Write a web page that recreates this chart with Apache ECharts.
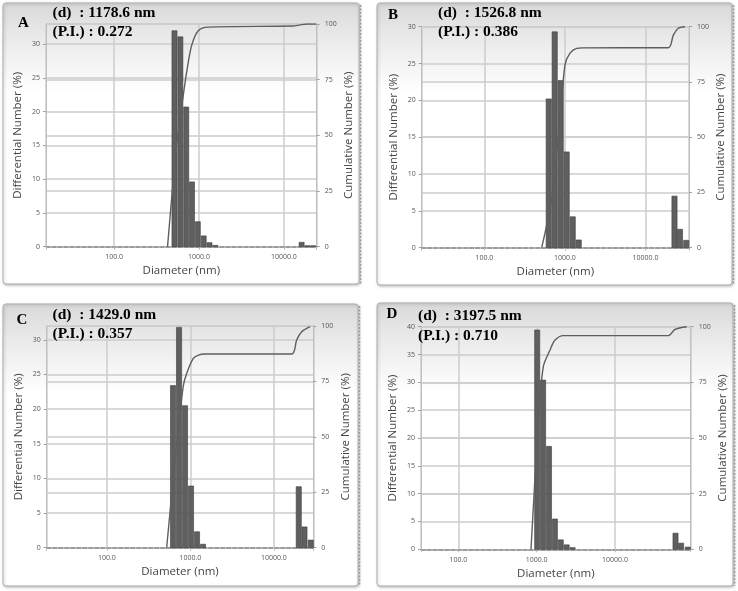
<!DOCTYPE html>
<html><head><meta charset="utf-8">
<script src="https://cdn.jsdelivr.net/npm/echarts@6/dist/echarts.min.js"></script>
<style>html,body{margin:0;padding:0;background:#fff}#c{width:738px;height:591px}</style>
</head><body><div id="c"></div>
<script>
// ---------------- data ----------------
const panelLabels = ['A', 'B', 'C', 'D'];
const dValues = ['1178.6', '1526.8', '1429.0', '3197.5'];
const piValues = ['0.272', '0.386', '0.357', '0.710'];
const xTickValues = [100, 1000, 10000];

// bin centres (nm) and differential number (%)
const binsA = [514, 603, 707, 827, 968, 1136, 1330, 1557, 16200, 19000, 22200];
const diffA = [32.0, 31.1, 20.7, 9.6, 3.7, 1.6, 0.6, 0.2, 0.65, 0.15, 0.15];
const binsB = [630, 747, 887, 1052, 1250, 1483, 22900, 26800, 32000];
const diffB = [20.2, 29.3, 22.7, 13.0, 4.2, 1.05, 7.0, 2.5, 1.0];
const binsC = [621, 733, 864, 1019, 1203, 1419, 19900, 23300, 27700];
const diffC = [23.4, 31.8, 20.5, 8.9, 2.3, 0.5, 8.8, 3.0, 1.1];
const binsD = [1015, 1207, 1436, 1707, 2030, 2415, 2875, 59300, 70000, 85300];
const diffD = [39.4, 30.4, 18.5, 5.45, 1.7, 0.8, 0.3, 2.9, 1.1, 0.4];

// cumulative number (%) curve points
const cumXA = [426, 546, 653, 716, 820, 981, 1288, 12820, 15500, 18600, 24000];
const cumA  = [0, 46, 68, 78.5, 90.4, 97, 98.6, 99.1, 99.6, 100, 100];
const cumXB = [515, 685, 815, 887, 1003, 1156, 1400, 1678, 19190, 22150, 25530, 30900];
const cumB  = [0, 22, 48, 61.5, 82.7, 88, 90.2, 90.4, 90.5, 96.2, 99.3, 100];
const cumXC = [521, 656, 824, 906, 1086, 1247, 1500, 16370, 18790, 21580, 27170];
const cumC  = [0, 39.5, 73, 78.7, 85.4, 86.9, 87.4, 87.4, 93.7, 97.4, 99.7];
const cumXD = [846, 1048, 1213, 1479, 1714, 2189, 47970, 58370, 82450];
const cumD  = [0, 56.6, 82, 89.5, 94, 96, 96, 98.8, 100];

// ---------------- layout ----------------
const frames = [[3, 3, 356, 281], [377, 3, 355, 282], [3, 304, 355, 282], [377, 303, 356, 283]];
const grids = [[46, 24, 270.7, 222.7], [421.7, 26.7, 267.3, 221], [46.7, 326, 266.6, 221.7], [421, 326.7, 269.7, 222.6]];
const xExtents = [[15.74, 24380], [16.7, 34670], [19.05, 29720], [33.3, 92680]];
const leftMax = [33, 30, 32, 40];
const binLogWidth = [0.0687, 0.0744, 0.0713, 0.0754];
const letterPos = [[18, 15.4], [388, 7.4], [16.5, 312.4], [386.5, 306.7]];
const textPos = [[52.5, 3.7, 19], [438, 3.7, 19], [52.5, 305.4, 19], [418, 305.6, 20]];

const bins = [binsA, binsB, binsC, binsD];
const diffs = [diffA, diffB, diffC, diffD];
const cumXs = [cumXA, cumXB, cumXC, cumXD];
const cums = [cumA, cumB, cumC, cumD];

const sans = '"Open Sans", "Noto Sans", sans-serif';
const serif = '"Liberation Serif", "Times New Roman", serif';
const gridColor = '#cdcdcd';

function logTickLabel(v) {
  const e = Math.log10(v);
  const r = Math.round(e);
  if (Math.abs(e - r) < 1e-6) {
    const t = Math.pow(10, r);
    if (xTickValues.indexOf(t) >= 0) return t.toFixed(1);
  }
  return '';
}

function barRenderer(binLog) {
  const half = Math.pow(10, binLog / 2);
  return function (params, api) {
    const c = api.value(0), v = api.value(1);
    const p0 = api.coord([c / half, 0]);
    const p1 = api.coord([c * half, v]);
    const x0 = p0[0] + 0.4, x1 = p1[0] - 0.4;
    return {
      type: 'rect',
      shape: { x: x0, y: p1[1], width: Math.max(x1 - x0, 0.5), height: p0[1] - p1[1] },
      style: { fill: '#5f5f5f', stroke: '#3e3e3e', lineWidth: 0.6 }
    };
  };
}

const option = {
  animation: false,
  backgroundColor: '#ffffff',
  title: [],
  grid: [],
  xAxis: [],
  yAxis: [],
  series: [],
  graphic: []
};

for (let i = 0; i < 4; i++) {
  const f = frames[i];
  option.graphic.push({
    type: 'rect', z: -100,
    shape: { x: f[0], y: f[1], width: f[2], height: f[3], r: 3 },
    style: {
      fill: new echarts.graphic.LinearGradient(0, 0, 0, 1, [
        { offset: 0, color: '#d9d9d9' },
        { offset: 0.12, color: '#e9e9e9' },
        { offset: 0.32, color: '#ffffff' },
        { offset: 1, color: '#ffffff' }
      ]),
      stroke: '#b0b0b0', lineWidth: 1,
      shadowBlur: 3, shadowColor: 'rgba(0,0,0,0.25)', shadowOffsetX: 1, shadowOffsetY: 1
    }
  });
  option.graphic.push({
    type: 'line', z: -99,
    shape: { x1: f[0] + f[2] + 1.5, y1: f[1] + 2, x2: f[0] + f[2] + 1.5, y2: f[1] + f[3] },
    style: { stroke: '#9a9a9a', lineWidth: 1.5, lineDash: [2, 1.5] }
  });

  option.title.push({
    text: panelLabels[i], left: letterPos[i][0], top: letterPos[i][1], padding: 0,
    textStyle: { fontFamily: serif, fontWeight: 'bold', fontSize: 15, color: '#000' }
  });
  option.title.push({
    text: '(d)  : ' + dValues[i] + ' nm\n(P.I.) : ' + piValues[i],
    left: textPos[i][0], top: textPos[i][1], padding: 0,
    textStyle: { fontFamily: serif, fontWeight: 'bold', fontSize: 15.5, lineHeight: textPos[i][2], color: '#000' }
  });

  const g = grids[i];
  option.grid.push({ left: g[0], top: g[1], width: g[2], height: g[3], containLabel: false, outerBoundsMode: 'none' });

  option.xAxis.push({
    type: 'log', logBase: 10, gridIndex: i,
    min: xExtents[i][0], max: xExtents[i][1],
    name: 'Diameter (nm)', nameLocation: 'middle', nameGap: 18,
    nameTextStyle: { fontFamily: sans, fontSize: 11.5, color: '#454545' },
    axisLine: { show: true, onZero: false, lineStyle: { color: '#8a8a8a', width: 1.5, type: [4, 2] } },
    axisTick: { show: true, length: 3, lineStyle: { color: '#b8b8b8' } },
    minorTick: { show: false },
    axisLabel: { formatter: logTickLabel, fontFamily: sans, fontSize: 7, color: '#555', margin: 7 },
    splitLine: { show: true, lineStyle: { color: gridColor, width: 1.5 } }
  });

  option.yAxis.push({
    type: 'value', gridIndex: i, position: 'left', min: 0, max: leftMax[i], interval: 5,
    name: 'Differential Number (%)', nameLocation: 'middle', nameRotate: 90, nameGap: 22,
    nameTextStyle: { fontFamily: sans, fontSize: 11.5, color: '#454545' },
    axisLine: { show: true, lineStyle: { color: '#c0c0c0', width: 1 } },
    axisTick: { show: true, length: 3, lineStyle: { color: '#a0a0a0' } },
    axisLabel: { fontFamily: sans, fontSize: 7, color: '#555', margin: 6, showMaxLabel: leftMax[i] % 5 === 0 },
    splitLine: { show: true, lineStyle: { color: gridColor, width: 1.5 } }
  });
  option.yAxis.push({
    type: 'value', gridIndex: i, position: 'right', min: 0, max: 100, interval: 25,
    name: 'Cumulative Number (%)', nameLocation: 'middle', nameRotate: 90, nameGap: 26,
    nameTextStyle: { fontFamily: sans, fontSize: 11.5, color: '#454545' },
    axisLine: { show: true, lineStyle: { color: '#c0c0c0', width: 1 } },
    axisTick: { show: true, length: 3, lineStyle: { color: '#a0a0a0' } },
    axisLabel: { fontFamily: sans, fontSize: 7, color: '#555', margin: 8 },
    splitLine: { show: true, lineStyle: { color: gridColor, width: 1.5 } }
  });

  option.series.push({
    type: 'custom', xAxisIndex: i, yAxisIndex: 2 * i, z: 2,
    renderItem: barRenderer(binLogWidth[i]),
    encode: { x: 0, y: 1 },
    data: bins[i].map((x, k) => [x, diffs[i][k]])
  });
  option.series.push({
    type: 'line', xAxisIndex: i, yAxisIndex: 2 * i + 1, z: 3,
    smooth: 0.3, showSymbol: false, symbol: 'none',
    lineStyle: { color: '#5e5e5e', width: 1.4 },
    data: cumXs[i].map((x, k) => [x, cums[i][k]])
  });
}

const chart = echarts.init(document.getElementById('c'), null, { renderer: 'canvas' });
chart.setOption(option);
</script>
</body></html>
